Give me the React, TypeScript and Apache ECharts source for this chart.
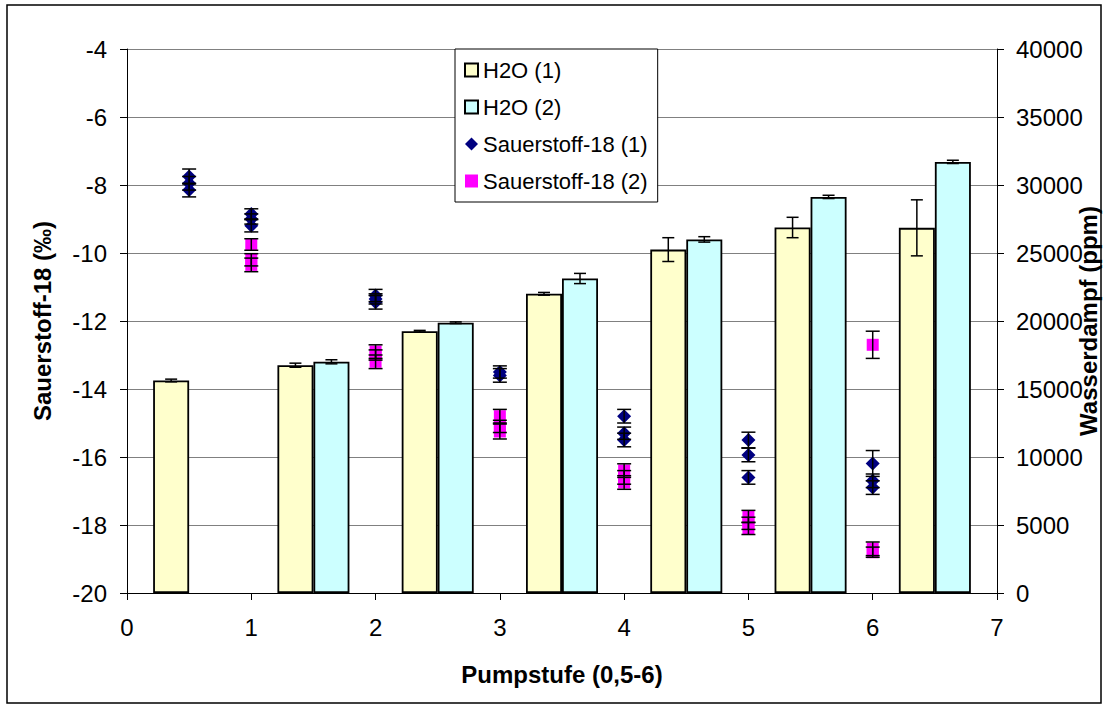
import React, { useEffect, useRef } from "react";
import * as echarts from "echarts";

const FONT = '"Liberation Sans", Arial, sans-serif';

// Bar categories (Pumpstufe groups)
const CATEGORIES = ["1", "2", "3", "4", "5", "6", "7"];
// Wasserdampf (ppm)
const H2O_1 = [15625, 16750, 19250, 22000, 25250, 26875, 26850];
const H2O_1_ERR = [100, 150, 60, 100, 875, 750, 2060];
const H2O_2: (number | null)[] = [null, 17000, 19875, 23125, 26000, 29125, 31700];
const H2O_2_ERR = [0, 150, 60, 375, 200, 120, 120];

// Sauerstoff-18 (1)
const O18_1_X = [0.5, 0.5, 0.5, 1, 1, 1, 2, 2, 2, 3, 3, 4, 4, 4, 5, 5, 5, 6, 6, 6];
const O18_1_Y = [-7.75, -7.95, -8.15, -8.85, -9.0, -9.2, -11.25, -11.35, -11.45, -13.5, -13.6, -14.8, -15.3, -15.5, -15.5, -15.94, -16.6, -16.19, -16.7, -16.9];
const O18_1_ERR = [0.22, 0.2, 0.2, 0.15, 0.15, 0.18, 0.18, 0.15, 0.2, 0.18, 0.2, 0.2, 0.18, 0.2, 0.23, 0.2, 0.2, 0.38, 0.2, 0.2];

// Sauerstoff-18 (2)
const O18_2_X = [1, 1, 1, 2, 2, 2, 3, 3, 3, 4, 4, 4, 5, 5, 5, 6, 6, 6];
const O18_2_Y = [-9.75, -10.2, -10.35, -12.9, -13.0, -13.2, -14.8, -15.1, -15.25, -16.4, -16.6, -16.75, -17.75, -17.95, -18.1, -12.7, -18.7, -18.8];
const O18_2_ERR = [0.17, 0.18, 0.2, 0.2, 0.15, 0.2, 0.2, 0.18, 0.22, 0.2, 0.2, 0.2, 0.18, 0.18, 0.18, 0.4, 0.2, 0.15];

// Axis ticks
const X_MIN = 0, X_MAX = 7, X_STEP = 1;
const L_MIN = -20, L_MAX = -4, L_STEP = 2;
const R_MIN = 0, R_MAX = 40000, R_STEP = 5000;

const BAR_W = 36;

function errorBar(capW: number) {
  return (params: any, api: any) => {
    const x = api.value(0);
    const y = api.value(1);
    const e = api.value(2);
    const off = api.value(3) || 0;
    const top = api.coord([x, y + e]);
    const bot = api.coord([x, y - e]);
    const cx = top[0] + off;
    const style = { stroke: "#000", lineWidth: 1.5 };
    return {
      type: "group",
      children: [
        { type: "line", shape: { x1: cx, y1: top[1], x2: cx, y2: bot[1] }, style },
        { type: "line", shape: { x1: cx - capW / 2, y1: top[1], x2: cx + capW / 2, y2: top[1] }, style },
        { type: "line", shape: { x1: cx - capW / 2, y1: bot[1], x2: cx + capW / 2, y2: bot[1] }, style },
      ],
    };
  };
}

export default function App() {
  const ref = useRef<HTMLDivElement>(null);
  useEffect(() => {
    if (!ref.current) return;
    const chart = echarts.init(ref.current, undefined, { renderer: "svg" });

    const barErr: any[] = [];
    H2O_1.forEach((v, i) => barErr.push([i, v, H2O_1_ERR[i], -BAR_W / 2]));
    H2O_2.forEach((v, i) => {
      if (v != null) barErr.push([i, v, H2O_2_ERR[i], BAR_W / 2]);
    });
    const s1 = O18_1_X.map((x, i) => [x, O18_1_Y[i]]);
    const s2 = O18_2_X.map((x, i) => [x, O18_2_Y[i]]);
    const e1 = O18_1_X.map((x, i) => [x, O18_1_Y[i], O18_1_ERR[i]]);
    const e2 = O18_2_X.map((x, i) => [x, O18_2_Y[i], O18_2_ERR[i]]);

    const axisLine = { show: true, lineStyle: { color: "#000", width: 1 } };
    const axisTick = { show: true, length: 7, lineStyle: { color: "#000", width: 1 } };

    chart.setOption({
      animation: false,
      backgroundColor: "#fff",
      textStyle: { fontFamily: FONT },
      grid: { left: 127, right: 112, top: 49, bottom: 116, containLabel: false },
      xAxis: [
        {
          type: "value", min: X_MIN, max: X_MAX, interval: X_STEP, position: "bottom",
          axisLine, axisTick,
          axisLabel: { fontSize: 24, color: "#000", fontFamily: FONT, margin: 22 },
          splitLine: { show: false },
        },
        { type: "category", data: CATEGORIES, position: "bottom", show: false },
      ],
      yAxis: [
        {
          type: "value", min: L_MIN, max: L_MAX, interval: L_STEP, position: "left",
          axisLine, axisTick,
          axisLabel: { fontSize: 24, color: "#000", fontFamily: FONT, margin: 20 },
          splitLine: { show: true, lineStyle: { color: "#808080", width: 1 } },
        },
        {
          type: "value", min: R_MIN, max: R_MAX, interval: R_STEP, position: "right",
          axisLine, axisTick,
          axisLabel: { fontSize: 24, color: "#000", fontFamily: FONT, margin: 19, formatter: (v: number) => String(v) },
          splitLine: { show: false },
        },
      ],
      legend: {
        orient: "vertical", left: 455, top: 49,
        backgroundColor: "#fff", borderColor: "#000", borderWidth: 1,
        padding: [10, 10, 10, 9], itemGap: 15, itemWidth: 13, itemHeight: 13,
        textStyle: { fontSize: 22, color: "#000", fontFamily: FONT },
        data: [
          { name: "H2O (1)", icon: "rect" },
          { name: "H2O (2)", icon: "rect" },
          { name: "Sauerstoff-18 (1)", icon: "diamond" },
          { name: "Sauerstoff-18 (2)", icon: "rect" },
        ],
      },
      graphic: [
        {
          type: "rect", silent: true, z: -10,
          shape: { x: 7, y: 5, width: 1094, height: 698 },
          style: { fill: "none", stroke: "#000", lineWidth: 1.5 },
        },
        {
          type: "text", x: 562, y: 674,
          style: { text: "Pumpstufe (0,5-6)", fontSize: 24, fontWeight: "bold", fontFamily: FONT, fill: "#000", align: "center", verticalAlign: "middle" },
        },
        {
          type: "text", x: 42, y: 321, rotation: Math.PI / 2,
          style: { text: "Sauerstoff-18 (‰)", fontSize: 24, fontWeight: "bold", fontFamily: FONT, fill: "#000", align: "center", verticalAlign: "middle" },
        },
        {
          type: "text", x: 1088, y: 321, rotation: Math.PI / 2,
          style: { text: "Wasserdampf (ppm)", fontSize: 24, fontWeight: "bold", fontFamily: FONT, fill: "#000", align: "center", verticalAlign: "middle" },
        },
      ],
      series: [
        {
          name: "H2O (1)", type: "bar", xAxisIndex: 1, yAxisIndex: 1, data: H2O_1,
          barWidth: BAR_W, barGap: "0%",
          itemStyle: { color: "#FFFFCC", borderColor: "#000", borderWidth: 1.8 },
        },
        {
          name: "H2O (2)", type: "bar", xAxisIndex: 1, yAxisIndex: 1, data: H2O_2,
          barWidth: BAR_W, barGap: "0%",
          itemStyle: { color: "#CCFFFF", borderColor: "#000", borderWidth: 1.8 },
        },
        {
          name: "barErr", type: "custom", xAxisIndex: 1, yAxisIndex: 1, data: barErr,
          renderItem: errorBar(12), z: 5, silent: true,
        },
        {
          name: "Sauerstoff-18 (1)", type: "scatter", xAxisIndex: 0, yAxisIndex: 0, data: s1,
          symbol: "diamond", symbolSize: 14, z: 4,
          itemStyle: { color: "#000080", opacity: 1 },
        },
        {
          name: "Sauerstoff-18 (2)", type: "scatter", xAxisIndex: 0, yAxisIndex: 0, data: s2,
          symbol: "rect", symbolSize: 12, z: 4,
          itemStyle: { color: "#FF00FF", opacity: 1 },
        },
        {
          name: "err1", type: "custom", xAxisIndex: 0, yAxisIndex: 0, data: e1,
          renderItem: errorBar(14), z: 6, silent: true,
        },
        {
          name: "err2", type: "custom", xAxisIndex: 0, yAxisIndex: 0, data: e2,
          renderItem: errorBar(14), z: 6, silent: true,
        },
      ],
    });
    return () => chart.dispose();
  }, []);
  return (
    <div
      ref={ref}
      style={{ position: "absolute", left: 0, top: 0, width: 1109, height: 709, background: "#fff" }}
    />
  );
}
